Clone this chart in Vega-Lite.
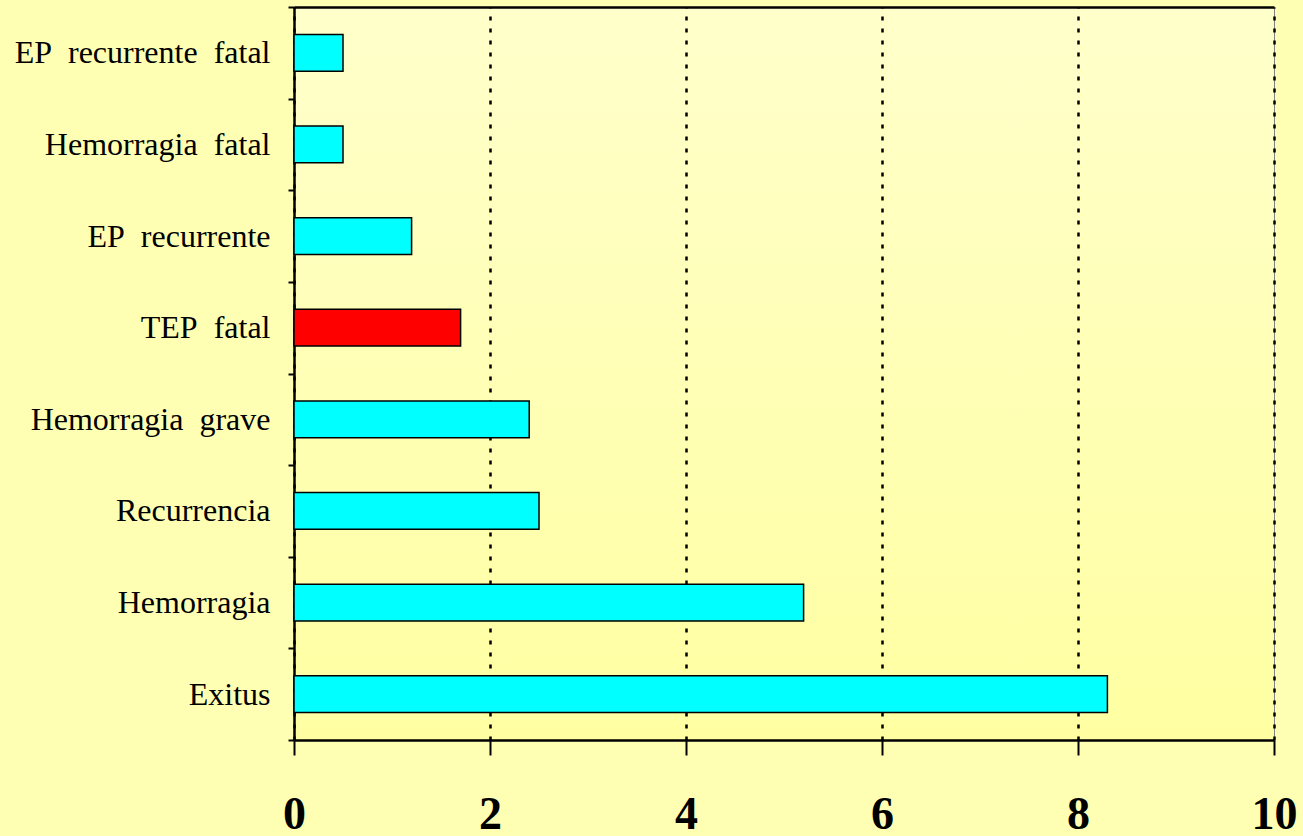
{
  "$schema": "https://vega.github.io/schema/vega-lite/v6.json",
  "autosize": "none",
  "width": 980,
  "height": 733,
  "padding": {"left": 294, "top": 7, "right": 29, "bottom": 96},
  "background": "#FFFFB4",
  "config": {
    "view": {
      "stroke": "#808080",
      "strokeWidth": 1,
      "fill": {
        "gradient": "linear",
        "x1": 0, "y1": 0, "x2": 0, "y2": 1,
        "stops": [
          {"offset": 0, "color": "#FFFFCB"},
          {"offset": 1, "color": "#FFFFA2"}
        ]
      }
    }
  },
  "data": {
    "values": [
      {"evento": "EP\u00a0 recurrente\u00a0 fatal", "valor": 0.5, "grupo": "otro"},
      {"evento": "Hemorragia\u00a0 fatal", "valor": 0.5, "grupo": "otro"},
      {"evento": "EP\u00a0 recurrente", "valor": 1.2, "grupo": "otro"},
      {"evento": "TEP\u00a0 fatal", "valor": 1.7, "grupo": "TEP"},
      {"evento": "Hemorragia\u00a0 grave", "valor": 2.4, "grupo": "otro"},
      {"evento": "Recurrencia", "valor": 2.5, "grupo": "otro"},
      {"evento": "Hemorragia", "valor": 5.2, "grupo": "otro"},
      {"evento": "Exitus", "valor": 8.3, "grupo": "otro"}
    ]
  },
  "resolve": {"axis": {"x": "independent"}},
  "encoding": {
    "y": {
      "field": "evento",
      "type": "nominal",
      "sort": null,
      "scale": {"paddingInner": 0, "paddingOuter": 0},
      "axis": {
        "title": null,
        "tickBand": "extent",
        "domainColor": "#000000",
        "domainWidth": 2.5,
        "tickColor": "#000000",
        "tickWidth": 2,
        "tickSize": 6,
        "labelPadding": 18,
        "labelFont": "Liberation Serif",
        "labelFontSize": 32,
        "labelColor": "#000000",
        "labelLimit": 400,
        "grid": false
      }
    }
  },
  "layer": [
    {
      "mark": {"type": "bar", "stroke": "#000000", "strokeWidth": 1.5, "height": {"band": 0.4}},
      "encoding": {
        "x": {
          "field": "valor",
          "type": "quantitative",
          "scale": {"domain": [0, 10], "nice": false},
          "axis": {
            "title": null,
            "values": [0, 2, 4, 6, 8, 10],
            "grid": true,
            "gridColor": "#000000",
            "gridWidth": 2.5,
            "gridDash": [4, 8],
            "gridOpacity": 1,
            "domainColor": "#000000",
            "domainWidth": 2.5,
            "tickColor": "#000000",
            "tickWidth": 2,
            "tickSize": 15,
            "labelBaseline": "alphabetic",
            "labelPadding": 73,
            "labelFont": "Liberation Serif",
            "labelFontWeight": "bold",
            "labelFontSize": 46,
            "labelColor": "#000000",
            "labelFlush": false,
            "labelOverlap": false
          }
        },
        "fill": {
          "field": "grupo",
          "type": "nominal",
          "scale": {"domain": ["otro", "TEP"], "range": ["#00FFFF", "#FF0000"]},
          "legend": null
        }
      }
    },
    {
      "mark": {"type": "bar", "opacity": 0},
      "encoding": {
        "x": {
          "field": "valor",
          "type": "quantitative",
          "axis": {
            "orient": "top",
            "title": null,
            "labels": false,
            "ticks": false,
            "grid": false,
            "domainColor": "#000000",
            "domainWidth": 2.5
          }
        }
      }
    }
  ]
}
